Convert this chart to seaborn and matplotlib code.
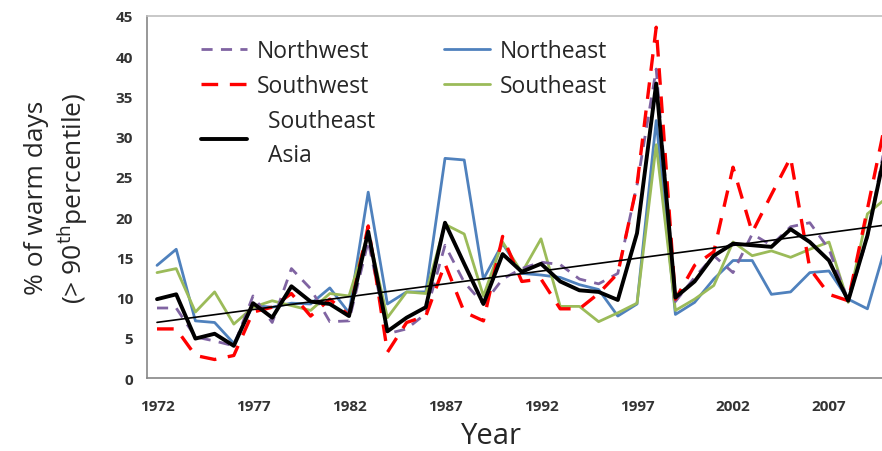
import numpy as np
import pandas as pd
import matplotlib
matplotlib.use("Agg")
import matplotlib.pyplot as plt
import seaborn as sns

# years on the category axis
years = list(range(1972, 2011))

# % of warm days (> 90th percentile)
northwest = [8.7, 8.7, 5.1, 4.6, 4.0, 10.2, 6.9, 13.6, 11.1, 7.0,
             7.1, 17.0, 5.5, 6.1, 8.0, 16.5, 11.9, 9.2, 12.3, 13.6,
             14.4, 14.1, 12.3, 11.7, 13.0, 24.0, 38.4, 9.5, 12.5, 15.2,
             13.1, 17.9, 16.5, 18.8, 19.3, 16.0, 9.6, 17.5, 30.0]
southwest = [6.1, 6.1, 2.8, 2.3, 2.8, 8.2, 8.8, 10.5, 7.7, 9.8,
             7.8, 18.9, 3.2, 6.9, 7.7, 14.2, 8.2, 7.1, 17.6, 12.0,
             12.3, 8.6, 8.6, 10.5, 13.0, 24.0, 43.6, 9.8, 14.0, 15.7,
             26.2, 18.1, 22.8, 27.4, 13.6, 10.4, 9.6, 21.0, 32.5]
northeast = [14.0, 16.0, 7.1, 6.9, 4.3, 9.0, 8.8, 9.3, 9.2, 11.2,
             8.1, 23.1, 9.2, 10.7, 10.7, 27.3, 27.1, 12.3, 16.7, 13.0,
             12.8, 12.5, 11.6, 11.0, 7.7, 9.2, 32.0, 7.9, 9.4, 12.3,
             14.6, 14.6, 10.4, 10.7, 13.1, 13.3, 9.8, 8.6, 16.8]
southeast = [13.1, 13.6, 8.2, 10.7, 6.7, 8.8, 9.6, 9.0, 8.4, 10.5,
             10.2, 18.0, 7.5, 10.7, 10.5, 19.1, 17.9, 10.2, 16.9, 13.1,
             17.3, 8.9, 8.9, 7.0, 8.1, 9.3, 29.0, 8.4, 9.8, 11.5,
             16.9, 15.2, 15.8, 15.0, 16.0, 16.9, 9.4, 20.4, 22.4]
se_asia = [9.8, 10.4, 4.9, 5.5, 4.0, 9.3, 7.5, 11.4, 9.5, 9.2,
           7.7, 18.2, 5.8, 7.5, 8.8, 19.3, 14.2, 9.2, 15.4, 13.2,
           14.2, 12.0, 10.9, 10.7, 9.7, 18.0, 36.6, 10.0, 12.0, 15.2,
           16.7, 16.5, 16.3, 18.5, 16.9, 14.6, 9.6, 17.7, 29.0]

year_labels = [1972, 1977, 1982, 1987, 1992, 1997, 2002, 2007]

df = pd.DataFrame({"year": years, "Northwest": northwest, "Southwest": southwest,
                   "Northeast": northeast, "Southeast": southeast,
                   "Southeast Asia": se_asia})

sns.set_style("white")
plt.rcParams['font.family'] = ['Open Sans', 'DejaVu Sans']

fig = plt.figure(figsize=(8.82, 4.52), dpi=100)
ax = fig.add_axes([0.1667, 0.1615, 0.8333, 0.801])

sns.lineplot(data=df, x="year", y="Northeast", ax=ax, color="#4F81BD", lw=2.0)
sns.lineplot(data=df, x="year", y="Southeast", ax=ax, color="#9BBB59", lw=2.0)
sns.lineplot(data=df, x="year", y="Northwest", ax=ax, color="#8064A2", lw=2.0)
sns.lineplot(data=df, x="year", y="Southwest", ax=ax, color="#FF0000", lw=2.4)
sns.lineplot(data=df, x="year", y="Southeast Asia", ax=ax, color="black", lw=2.8)
lines = ax.get_lines()
lines[2].set_dashes([4, 3])
lines[3].set_dashes([5, 3.5])

# linear trend of the Southeast Asia series
sns.regplot(data=df, x="year", y="Southeast Asia", ax=ax, scatter=False, ci=None,
            truncate=True, line_kws={"color": "black", "lw": 1.2})

ax.set_xlim(1971.48, 2009.76)
ax.set_ylim(0, 45)
ax.set_yticks(range(0, 50, 5))
ax.set_xticks(year_labels)
ax.set_xticks(np.arange(1971.5, 2010, 1), minor=True)
ax.tick_params(axis="x", which="major", length=0, pad=15)
ax.tick_params(axis="x", which="minor", length=4, color="#868686", direction="out")
ax.tick_params(axis="y", length=4, color="#868686", direction="out", pad=6)
for lab in ax.get_xticklabels() + ax.get_yticklabels():
    lab.set_fontweight("bold")
    lab.set_fontsize(11)
    lab.set_color("#333333")

for s in ["left", "bottom", "top"]:
    ax.spines[s].set_color("#868686")
    ax.spines[s].set_linewidth(1.2)
ax.spines["top"].set_color("#BFBFBF")
ax.spines["right"].set_visible(False)

ax.set_xlabel("Year", fontsize=21, va="top")
ax.xaxis.set_label_coords(0.469, -0.119)
ax.set_ylabel("% of warm days\n(> 90$^{\\rm th}$percentile)", fontsize=19,
              linespacing=1.25)
ax.yaxis.set_label_coords(-0.078, 0.5)

lines = ax.get_lines()
handles = [lines[2], lines[3], lines[4], lines[0], lines[1]]
labels = ["Northwest", "Southwest", "  Southeast\n  Asia", "Northeast", "Southeast"]
leg = ax.legend(handles, labels, ncol=2, frameon=False, loc="upper left",
                bbox_to_anchor=(0.046, 0.992), fontsize=16.5, handlelength=2.0,
                handletextpad=0.4, columnspacing=3.0, labelspacing=0.48)
leg.get_texts()[2].set_linespacing(1.55)

fig.savefig("out.png", dpi=100)
